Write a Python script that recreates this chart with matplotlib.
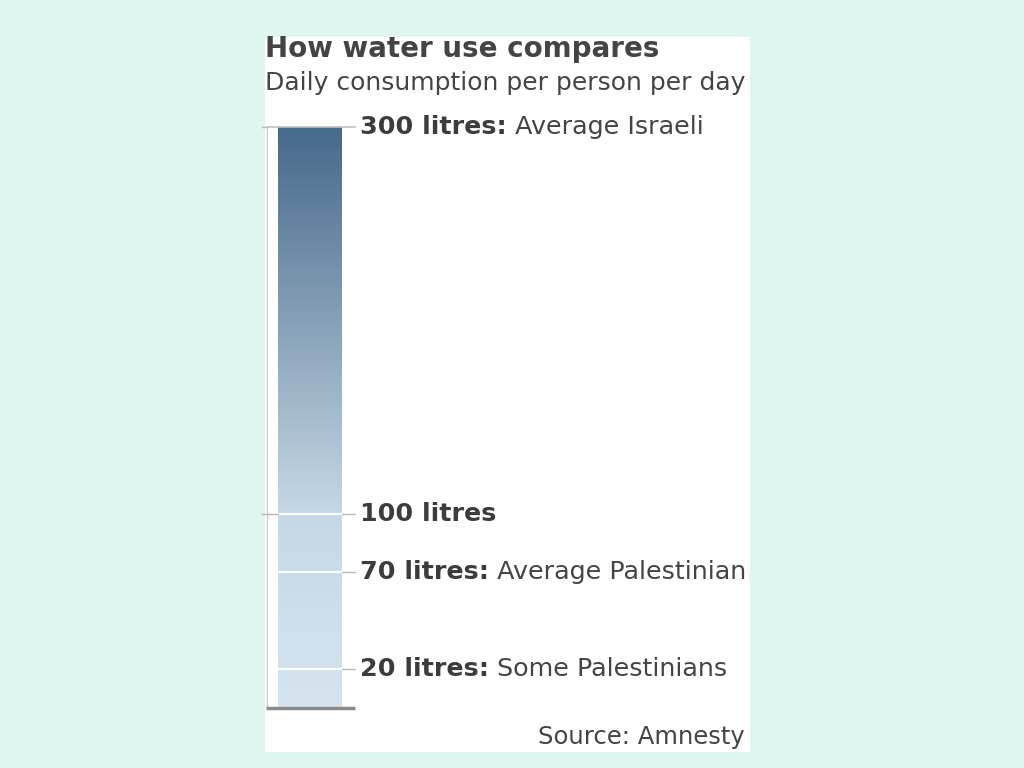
import matplotlib.pyplot as plt
import numpy as np
from matplotlib.colors import LinearSegmentedColormap
from matplotlib.patches import Rectangle

plt.rcParams['font.family'] = ['DejaVu Sans']

# data
values = [300, 100, 70, 20]
bold_labels = ["300 litres:", "100 litres", "70 litres:", "20 litres:"]
rest_labels = [" Average Israeli", "", " Average Palestinian", " Some Palestinians"]
axis_ticks = [100, 300]

title = "How water use compares"
subtitle = "Daily consumption per person per day"
source = "Source: Amnesty"

W, H = 1024, 768
fig = plt.figure(figsize=(W / 100, H / 100), dpi=100)
fig.patch.set_facecolor("#dff5f0")

def fx(px):
    return px / W

def fy(py):
    return 1 - py / H

# white panel
fig.patches.append(Rectangle((fx(265), fy(752)), fx(750) - fx(265), fy(37) - fy(752),
                             transform=fig.transFigure, facecolor="white", edgecolor="none", zorder=-5))

# axes: x in pixels from the axis line, y in litres
ax = fig.add_axes([fx(267), fy(708), fx(750) - fx(267), fy(127) - fy(708)])
ax.set_xlim(0, 483)
ax.set_ylim(0, 300)
ax.axis("off")
ax.patch.set_alpha(0)

# gradient bar
cmap = LinearSegmentedColormap.from_list("water", [(0, "#d5e4ef"), (1 / 3, "#c6d8e6"), (1, "#47698a")])
grad = np.linspace(0, 1, 300).reshape(-1, 1)
ax.imshow(grad, extent=[11, 75, 0, values[0]], origin="lower", aspect="auto", cmap=cmap, zorder=1)

# axis line and ticks
ax.plot([0, 0], [0, 300], color="#d0d0d0", lw=1, zorder=2, clip_on=False)
for t in axis_ticks:
    ax.plot([-5, 0], [t, t], color="#b8b8b8", lw=1, zorder=2, clip_on=False)

for i, v in enumerate(values):
    if v < values[0]:
        ax.plot([11, 75], [v, v], color="white", lw=1.6, zorder=3)
        ax.plot([75, 88], [v, v], color="#b8b8b8", lw=1, zorder=3)
        if v in axis_ticks:
            ax.plot([0, 11], [v, v], color="#b8b8b8", lw=1, zorder=3)
    else:
        ax.plot([0, 88], [v, v], color="#c0c0c0", lw=1.2, zorder=3, clip_on=False)
    tb = ax.text(93, v, bold_labels[i], fontsize=18.3, fontweight="bold", color="#3c3c3c",
                 va="center", ha="left", zorder=4)
    if rest_labels[i]:
        ax.annotate(rest_labels[i], xy=(1, 0), xycoords=tb, va="bottom", ha="left",
                    fontsize=18.3, color="#444444", zorder=4)

# baseline
ax.plot([-1, 88], [0, 0], color="#8a8a8a", lw=2.5, zorder=5, clip_on=False, solid_capstyle="butt")

fig.text(fx(265), fy(49), title, fontsize=20, fontweight="bold", color="#444444", va="center", ha="left")
fig.text(fx(265), fy(83), subtitle, fontsize=18, color="#444444", va="center", ha="left")
fig.text(fx(745), fy(737), source, fontsize=17.5, color="#444444", va="center", ha="right")

fig.savefig("out.png", dpi=100, facecolor=fig.get_facecolor())
